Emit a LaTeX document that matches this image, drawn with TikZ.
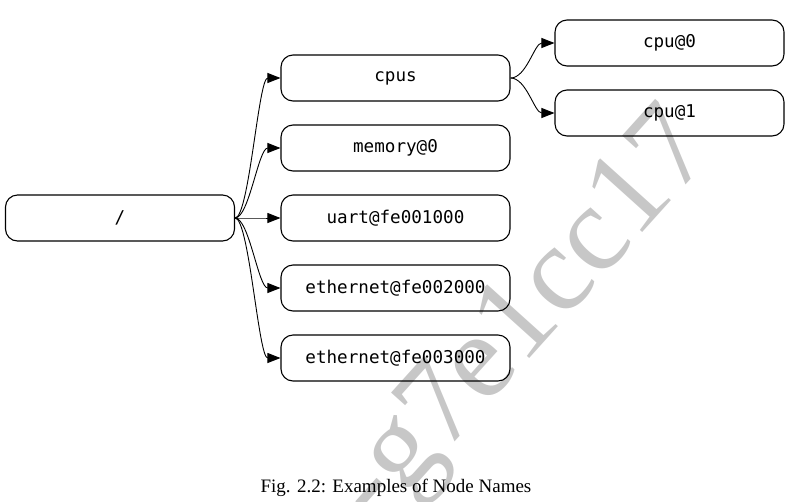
\documentclass[tikz,border=0pt]{standalone}
\usepackage{fontspec}
\setmainfont{Liberation Serif}
\setmonofont{DejaVu Sans Mono}
\usetikzlibrary{arrows.meta}

\begin{document}
\begin{tikzpicture}[x=1pt,y=1pt,
    dtnode/.style={draw, rounded corners=12pt, line width=1.1pt,
      minimum width=229pt, minimum height=46pt, inner sep=0pt,
      font=\fontsize{17.6}{20}\ttfamily},
    dtedge/.style={line width=0.9pt, -{Triangle[length=13pt,width=10pt]}}]
  \useasboundingbox (0,0) rectangle (799,-501);
  % watermark behind the tree
  \node[rotate=48, text=black!22, inner sep=0pt,
    font=\fontsize{122}{122}\selectfont] (mark) at (527,-321) {-g7e1cc17};
  \node[dtnode] (root) at (120,-218) {/};
  \node[dtnode] (cpus) at (395.5,-78) {cpus};
  \node[dtnode] (memory) at (395.5,-148) {memory@0};
  \node[dtnode] (uart) at (395.5,-218) {uart@fe001000};
  \node[dtnode] (eth2) at (395.5,-288) {ethernet@fe002000};
  \node[dtnode] (eth3) at (395.5,-358) {ethernet@fe003000};
  \node[dtnode] (cpu0) at (669.5,-43) {cpu@0};
  \node[dtnode] (cpu1) at (669.5,-113) {cpu@1};
  \foreach \child in {cpus,memory,uart,eth2,eth3}
    \draw[dtedge] (root.east) .. controls +(14,0) and +(-22,0) .. (\child.west);
  \foreach \child in {cpu0,cpu1}
    \draw[dtedge] (cpus.east) .. controls +(16,0) and +(-20,0) .. (\child.west);
  \node[font=\fontsize{19}{22}\selectfont] (caption) at (396,-488)
    {Fig. 2.2: Examples of Node Names};
\end{tikzpicture}
\end{document}
